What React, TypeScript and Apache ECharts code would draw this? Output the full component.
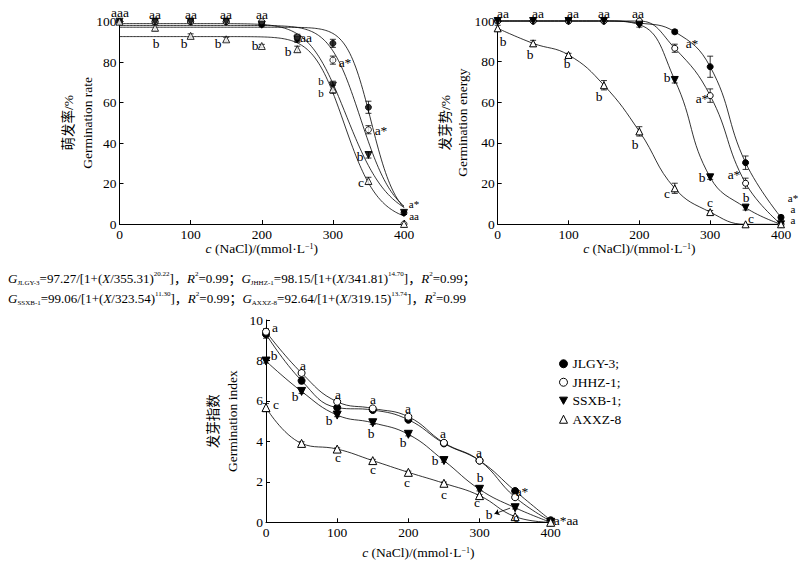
import React, { useEffect, useRef } from "react";
import * as echarts from "echarts";

// ---------- data ----------
const concentrations = [0, 50, 100, 150, 200, 250, 300, 350, 400];
const cultivars = ["JLGY-3", "JHHZ-1", "SSXB-1", "AXXZ-8"];

// Germination rate (%)
const rateJLGY = [100, 100, 100, 100, 98.7, 91.8, 89.3, 57.7, 5.5];
const rateJHHZ = [100, 100, 100, 100, 100, 92.3, 81, 46.6, 0];
const rateSSXB = [100, 100, 100, 100, 98.5, 91.3, 68.4, 34.1, 5.5];
const rateAXXZ = [100, 97, 93, 91.3, 88, 86.4, 66.6, 21.3, 0];
const rateErrJLGY = [0, 0.5, 0.5, 0.5, 0.6, 1.5, 2, 3, 0.8];
const rateErrJHHZ = [0, 0, 0, 0, 0.5, 1.5, 2, 2, 0];
const rateErrSSXB = [0, 0, 0, 0, 1, 1.5, 2.2, 1.5, 0.8];
const rateErrAXXZ = [0, 1.5, 1, 1, 0.8, 1.5, 2, 1.8, 0];

// fitted logistic parameters printed under the chart: G = A/[1+(X/B)^C]
const fitA = [97.27, 98.15, 99.06, 92.64];
const fitB = [355.31, 341.81, 323.54, 319.15];
const fitC = [20.22, 14.7, 11.3, 13.74];

// Germination energy (%)
const energyJLGY = [100, 100, 100, 100, 99, 94.7, 77.5, 30.3, 3.4];
const energyJHHZ = [100, 100, 100, 100, 100, 86.6, 63.3, 20.2, 0];
const energySSXB = [100, 100, 100, 100, 98.2, 71, 23.1, 8.2, 0];
const energyAXXZ = [96.4, 89, 83.3, 68.4, 45.7, 17.7, 6, 0, 0];
const energyErrJLGY = [0.6, 0.6, 0.4, 0.6, 0.6, 1, 5.2, 3.3, 1];
const energyErrJHHZ = [0, 0, 0, 0, 0.4, 2, 3.3, 2.5, 0];
const energyErrSSXB = [0, 0, 0, 0, 1.2, 1.5, 1, 1.2, 0];
const energyErrAXXZ = [1.5, 1.5, 0.8, 2.3, 2.3, 2.5, 0.8, 0, 0];

// Germination index
const indexJLGY = [9.3, 7.0, 5.67, 5.55, 5.07, 3.9, 3.05, 1.55, 0.1];
const indexJHHZ = [9.42, 7.38, 5.96, 5.63, 5.22, 3.93, 3.05, 1.24, 0.05];
const indexSSXB = [7.97, 6.47, 5.3, 4.92, 4.35, 3.05, 1.63, 0.72, 0];
const indexAXXZ = [5.67, 3.9, 3.62, 3.05, 2.47, 1.93, 1.32, 0.28, 0];
const indexErrJLGY = [0.2, 0.15, 0.1, 0.08, 0.08, 0.08, 0.08, 0.06, 0.03];
const indexErrJHHZ = [0.15, 0.1, 0.08, 0.08, 0.08, 0.08, 0.1, 0.06, 0.03];
const indexErrSSXB = [0.1, 0.1, 0.08, 0.08, 0.08, 0.08, 0.08, 0.06, 0];
const indexErrAXXZ = [0.2, 0.08, 0.06, 0.06, 0.06, 0.06, 0.06, 0.04, 0];

// significance letters: [concentration, value, text]
const rateLetters: [number, number, string][] = [
  [0.7, 104.8, "aaa"], [50, 104, "aa"], [100, 104, "aa"], [150, 104, "aa"], [200, 104, "aa"],
  [51, 89.5, "b"], [90.7, 89.5, "b"], [138, 89.5, "b"], [190.5, 88.5, "b"], [237, 85.5, "b"],
  [262, 92.4, "aa"], [317.7, 80, "a*"], [282.9, 67.8, "b\nb"],
  [367.7, 46.5, "a*"], [338.1, 33.6, "b"], [339.5, 20.6, "c"], [414, 7, "a*\naa"],
];
const energyLetters: [number, number, string][] = [
  [7.5, 104, "aa"], [57, 104, "aa"], [106, 104, "aa"], [149.7, 104, "aa"], [198, 104, "aa"],
  [7.5, 90.3, "b"], [45.6, 83.8, "b"], [97.4, 79.2, "b"], [143, 63.3, "b"], [193.8, 39.5, "b"],
  [238.6, 15.2, "c"], [299.7, 11.1, "c"], [357.6, 3.2, "c"],
  [273.9, 89, "a*"], [288, 62, "a*"], [333.6, 24.6, "a*"], [417, 7.6, "a*\na\na"],
  [239.4, 72.3, "b"], [288, 23.1, "b"], [350.1, 13.6, "b"],
];
const indexLetters: [number, number, string][] = [
  [12.6, 9.67, "a"], [11.2, 8.27, "b"], [14, 5.83, "c"],
  [52.4, 7.78, "a"], [40.7, 6.26, "b"],
  [100.7, 6.36, "a"], [88.9, 5.06, "b"], [100.7, 3.24, "c"],
  [149.9, 6.1, "a"], [147.5, 4.43, "b"], [150.8, 2.63, "c"],
  [200, 5.66, "a"], [192.9, 3.98, "b"], [198.5, 2.0, "c"],
  [249.1, 4.43, "a"], [237.5, 3.06, "b"], [250.1, 1.38, "c"],
  [299.7, 3.49, "a"], [300.7, 2.22, "b"], [296, 0.99, "c"],
  [359.3, 1.56, "a*"], [313.8, 0.4, "b"], [350.9, 0.25, "c"], [421, 0.13, "a*aa"],
];
const indexArrow: [number, number][] = [[343, 0.7], [321, 0.42]];

// ---------- styling ----------
const FONT = '"Liberation Serif", "Times New Roman", "Noto Sans CJK SC", serif';
const markerStyles = [
  { symbol: "circle", rotate: 0, fill: "#000" },
  { symbol: "circle", rotate: 0, fill: "#fff" },
  { symbol: "triangle", rotate: 180, fill: "#000" },
  { symbol: "triangle", rotate: 0, fill: "#fff" },
];

const fitX: number[] = [];
for (let x = 0; x <= 400; x += 2) fitX.push(x);

function pairs(vals: number[]) {
  return concentrations.map((c, i) => [c, vals[i]]);
}
function errTriples(vals: number[], errs: number[]) {
  return concentrations
    .map((c, i) => [c, vals[i], errs[i]])
    .filter((d) => d[2] > 0);
}

function errorBarSeries(panel: number, vals: number[], errs: number[]) {
  return {
    type: "custom",
    xAxisIndex: panel,
    yAxisIndex: panel,
    z: 3,
    clip: false,
    silent: true,
    data: errTriples(vals, errs),
    renderItem: (_p: any, api: any) => {
      const x = api.value(0);
      const y = api.value(1);
      const e = api.value(2);
      const top = api.coord([x, y + e]);
      const bot = api.coord([x, y - e]);
      const w = 3;
      const st = { stroke: "#000", lineWidth: 0.8 };
      return {
        type: "group",
        children: [
          { type: "line", shape: { x1: top[0], y1: top[1], x2: bot[0], y2: bot[1] }, style: st },
          { type: "line", shape: { x1: top[0] - w, y1: top[1], x2: top[0] + w, y2: top[1] }, style: st },
          { type: "line", shape: { x1: bot[0] - w, y1: bot[1], x2: bot[0] + w, y2: bot[1] }, style: st },
        ],
      };
    },
  };
}

function markerSeries(panel: number, idx: number, vals: number[], type: string, size: number, name: string) {
  const m = markerStyles[idx];
  return {
    type,
    name,
    xAxisIndex: panel,
    yAxisIndex: panel,
    data: pairs(vals),
    symbol: m.symbol,
    symbolRotate: m.rotate,
    symbolSize: m.symbol === "circle" ? size : size + 1,
    smooth: type === "line" ? 0.45 : undefined,
    showSymbol: true,
    clip: false,
    z: 4,
    itemStyle: { color: m.fill, borderColor: "#000", borderWidth: 1 },
    lineStyle: { color: "#000", width: 0.8 },
  };
}

function axisCommon() {
  return {
    axisLine: { show: true, lineStyle: { color: "#000", width: 1 } },
    axisTick: { show: true, inside: true, length: 4, lineStyle: { color: "#000", width: 1 } },
    splitLine: { show: false },
    nameMoveOverlap: false,
  };
}

const xNameRich = {
  i: { fontStyle: "italic", fontSize: 13.5, fontFamily: FONT, color: "#000", lineHeight: 13 },
  sup: { fontSize: 8, verticalAlign: "top", fontFamily: FONT, color: "#000", lineHeight: 13 },
};
const xName = "{i|c} (NaCl)/(mmol·L{sup|−1})";

function xAxis(grid: number, gap: number, padLeft: number) {
  return {
    type: "value",
    gridIndex: grid,
    min: 0,
    max: 400,
    interval: 100,
    name: xName,
    nameLocation: "middle",
    nameGap: gap,
    nameTextStyle: {
      fontSize: 13.5,
      fontFamily: FONT,
      color: "#000",
      lineHeight: 13,
      rich: xNameRich,
      padding: [0, 0, 0, padLeft],
    },
    ...axisCommon(),
    axisLabel: { color: "#000", fontSize: 13.5, fontFamily: FONT, margin: 4, lineHeight: 12 },
  };
}

function yAxis(grid: number, max: number, interval: number, name: string, gap: number, lh: number) {
  return {
    type: "value",
    gridIndex: grid,
    min: 0,
    max,
    interval,
    name,
    nameLocation: "middle",
    nameGap: gap,
    nameTextStyle: { fontSize: 13.5, fontFamily: FONT, color: "#000", lineHeight: lh },
    ...axisCommon(),
    axisLabel: { color: "#000", fontSize: 13.5, fontFamily: FONT, margin: 3 },
  };
}

const formulaRich = {
  i: { fontStyle: "italic", fontSize: 13, fontFamily: FONT, fill: "#000" },
  sub: { fontSize: 7, verticalAlign: "bottom", fontFamily: FONT, fill: "#000" },
  sup: { fontSize: 7, verticalAlign: "top", fontFamily: FONT, fill: "#000" },
};
const formulaLine1 =
  "{i|G}{sub|JLGY-3}=97.27/[1+({i|X}/355.31){sup|20.22}]，{i|R}{sup|2}=0.99；{i|G}{sub|JHHZ-1}=98.15/[1+({i|X}/341.81){sup|14.70}]，{i|R}{sup|2}=0.99；";
const formulaLine2 =
  "{i|G}{sub|SSXB-1}=99.06/[1+({i|X}/323.54){sup|11.30}]，{i|R}{sup|2}=0.99；{i|G}{sub|AXXZ-8}=92.64/[1+({i|X}/319.15){sup|13.74}]，{i|R}{sup|2}=0.99";

export default function App() {
  const ref = useRef<HTMLDivElement>(null);

  useEffect(() => {
    if (!ref.current) return;
    const chart = echarts.init(ref.current, undefined, { renderer: "svg" });

    const rateVals = [rateJLGY, rateJHHZ, rateSSXB, rateAXXZ];
    const rateErrs = [rateErrJLGY, rateErrJHHZ, rateErrSSXB, rateErrAXXZ];
    const energyVals = [energyJLGY, energyJHHZ, energySSXB, energyAXXZ];
    const energyErrs = [energyErrJLGY, energyErrJHHZ, energyErrSSXB, energyErrAXXZ];
    const indexVals = [indexJLGY, indexJHHZ, indexSSXB, indexAXXZ];
    const indexErrs = [indexErrJLGY, indexErrJHHZ, indexErrSSXB, indexErrAXXZ];

    const series: any[] = [];
    // panel 1: fitted curves + observed points
    cultivars.forEach((c, i) => {
      series.push({
        type: "line",
        name: c + " fit",
        xAxisIndex: 0,
        yAxisIndex: 0,
        data: fitX.map((x) => [x, fitA[i] / (1 + Math.pow(x / fitB[i], fitC[i]))]),
        showSymbol: false,
        symbol: "none",
        clip: false,
        z: 2,
        lineStyle: { color: "#000", width: 0.8 },
        silent: true,
      });
    });
    cultivars.forEach((c, i) => {
      series.push(errorBarSeries(0, rateVals[i], rateErrs[i]));
      series.push(markerSeries(0, i, rateVals[i], "scatter", 6, c + " rate"));
    });

    // panel 2
    cultivars.forEach((c, i) => {
      series.push(errorBarSeries(1, energyVals[i], energyErrs[i]));
      series.push(markerSeries(1, i, energyVals[i], "line", 6, c + " energy"));
    });

    // panel 3
    cultivars.forEach((c, i) => {
      series.push(errorBarSeries(2, indexVals[i], indexErrs[i]));
      series.push(markerSeries(2, i, indexVals[i], "line", 7, c));
    });
    series.push({
      type: "lines",
      coordinateSystem: "cartesian2d",
      xAxisIndex: 2,
      yAxisIndex: 2,
      symbol: ["none", "arrow"],
      symbolSize: 5,
      silent: true,
      lineStyle: { color: "#000", width: 0.8, opacity: 1 },
      data: [{ coords: indexArrow }],
      z: 5,
    });

    chart.setOption({
      animation: false,
      backgroundColor: "#fff",
      grid: [
        { left: 119.5, top: 21.7, width: 284.5, height: 202.3, outerBoundsMode: "none" },
        { left: 497.7, top: 21, width: 283.3, height: 203.3, outerBoundsMode: "none" },
        { left: 266, top: 320, width: 284.7, height: 202.3, outerBoundsMode: "none" },
      ],
      xAxis: [xAxis(0, 18, 0), xAxis(1, 18, 0), xAxis(2, 24, 20)],
      yAxis: [
        yAxis(0, 100, 20, "萌发率/%\nGermination rate", 23, 19),
        yAxis(1, 100, 20, "发芽势/%\nGermination energy", 27, 17),
        yAxis(2, 10, 2, "发芽指数\nGermination index", 24.5, 19),
      ],
      legend: {
        orient: "vertical",
        left: 554,
        top: 352,
        itemWidth: 8,
        itemHeight: 8,
        itemGap: 5,
        selectedMode: false,
        textStyle: { fontSize: 13.5, fontFamily: FONT, color: "#000" },
        formatter: (n: string) => (n === "AXXZ-8" ? n : n + ";"),
        data: [
          { name: "JLGY-3", icon: "circle", itemStyle: { color: "#000", borderColor: "#000", borderWidth: 1 } },
          { name: "JHHZ-1", icon: "circle", itemStyle: { color: "#fff", borderColor: "#000", borderWidth: 1 } },
          { name: "SSXB-1", icon: "path://M0,0L10,0L5,9Z", itemStyle: { color: "#000", borderColor: "#000", borderWidth: 1 } },
          { name: "AXXZ-8", icon: "triangle", itemStyle: { color: "#fff", borderColor: "#000", borderWidth: 1 } },
        ],
      },
      series,
    });

    // significance letters, placed through the axes' own scales
    const letterTexts: any[] = [];
    const addLetters = (panel: number, letters: [number, number, string][], stackGap: number) => {
      letters.forEach(([x, y, t], k) => {
        const p = chart.convertToPixel({ xAxisIndex: panel, yAxisIndex: panel }, [x, y]) as number[];
        const stacked = t.indexOf("\n") >= 0;
        letterTexts.push({
          type: "text",
          id: "lt" + panel + "_" + k,
          x: Math.round(p[0]),
          y: Math.round(p[1]),
          rotation: 0.0002,
          silent: true,
          z: 100,
          style: {
            text: t,
            fill: "#000",
            fontSize: stacked ? 11 : 13.5,
            fontFamily: FONT,
            align: "center",
            verticalAlign: "middle",
            lineHeight: stacked ? stackGap : 12,
          },
        });
      });
    };
    addLetters(0, rateLetters, 12);
    addLetters(1, energyLetters, 11);
    addLetters(2, indexLetters, 12);

    chart.setOption({
      graphic: [
        {
          type: "text",
          id: "formula1",
          x: 8,
          y: 278,
          silent: true,
          style: {
            text: formulaLine1,
            rich: formulaRich,
            fontSize: 13,
            fontFamily: FONT,
            fill: "#000",
            verticalAlign: "middle",
            lineHeight: 16,
          },
        },
        {
          type: "text",
          id: "formula2",
          x: 8,
          y: 298,
          silent: true,
          style: {
            text: formulaLine2,
            rich: formulaRich,
            fontSize: 13,
            fontFamily: FONT,
            fill: "#000",
            verticalAlign: "middle",
            lineHeight: 16,
          },
        },
        ...letterTexts,
      ],
    });

    return () => chart.dispose();
  }, []);

  return (
    <div
      ref={ref}
      style={{ position: "fixed", left: 0, top: 0, width: 799, height: 562, background: "#fff" }}
    />
  );
}
